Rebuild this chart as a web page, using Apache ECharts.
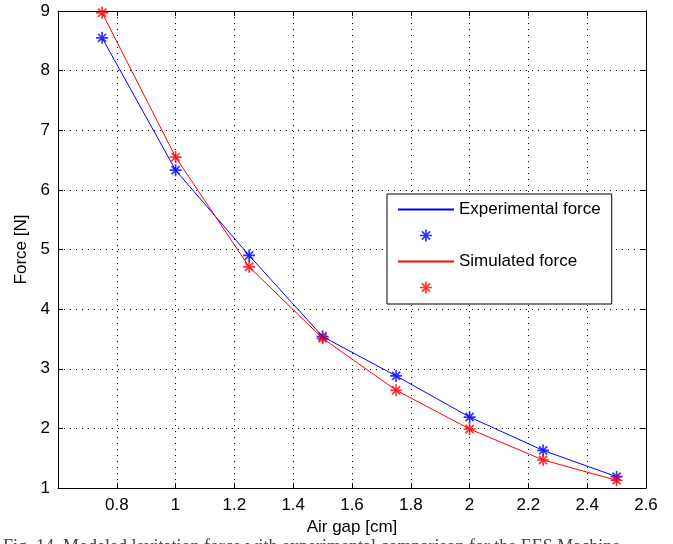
<!DOCTYPE html>
<html>
<head>
<meta charset="utf-8">
<script src="https://cdn.jsdelivr.net/npm/echarts@6/dist/echarts.min.js"></script>
<style>
  html, body { margin: 0; padding: 0; background: #fff; }
  #chart { width: 673px; height: 544px; }
</style>
</head>
<body>
<div id="chart"></div>
<script>
// data
var airGap = [0.75, 1.0, 1.25, 1.5, 1.75, 2.0, 2.25, 2.5];
var experimentalForce = [8.55, 6.33, 4.90, 3.54, 2.88, 2.19, 1.63, 1.19];
var simulatedForce = [8.97, 6.55, 4.71, 3.51, 2.64, 1.99, 1.47, 1.13];

function pairs(xs, ys) {
  return xs.map(function (x, i) { return [x, ys[i]]; });
}

// matlab style asterisk marker
var star = 'path://M8.6 0L11.4 0L11.4 20L8.6 20Z M0 8.6L20 8.6L20 11.4L0 11.4Z' +
  ' M2.2 4.2L4.2 2.2L17.8 15.8L15.8 17.8Z M15.8 2.2L17.8 4.2L4.2 17.8L2.2 15.8Z';

var font = '"Liberation Sans", Arial, sans-serif';
var dotted = { color: '#000', width: 1, type: [1, 5] };

var chart = echarts.init(document.getElementById('chart'));

var option = {
  backgroundColor: '#fff',
  animation: false,
  grid: { left: 58, right: 27, top: 11, bottom: 56 },
  legend: {
    orient: 'vertical',
    left: 387,
    top: 194,
    padding: [7, 11, 8, 10],
    itemWidth: 56,
    itemHeight: 12,
    itemGap: 9,
    backgroundColor: '#fff',
    borderColor: '#000',
    borderWidth: 1,
    borderRadius: 0,
    selectedMode: false,
    textStyle: { fontFamily: font, fontSize: 17, color: '#000' },
    data: [
      // hide the dot that line series get in the legend
      { name: 'Experimental force', itemStyle: { opacity: 0 } },
      { name: '\u200b' },
      { name: 'Simulated force', itemStyle: { opacity: 0 } },
      { name: '\u200b\u200b' }
    ]
  },
  xAxis: [{
    type: 'value',
    min: 0.6, max: 2.6, interval: 0.2,
    name: 'Air gap [cm]',
    nameLocation: 'middle',
    nameGap: 30,
    nameTextStyle: { fontFamily: font, fontSize: 17, color: '#000' },
    axisLine: { lineStyle: { color: '#000' } },
    axisTick: { inside: true, length: 5, lineStyle: { color: '#000' } },
    axisLabel: {
      margin: 9,
      fontFamily: font, fontSize: 17, color: '#000',
      formatter: function (v) { return v < 0.7 ? '' : String(+v.toFixed(1)); }
    },
    splitLine: { show: true, lineStyle: dotted }
  }, {
    // top edge of the box
    type: 'value', position: 'top',
    min: 0.6, max: 2.6, interval: 0.2,
    axisLine: { lineStyle: { color: '#000' } },
    axisTick: { inside: true, length: 5, lineStyle: { color: '#000' } },
    axisLabel: { show: false },
    splitLine: { show: false }
  }],
  yAxis: [{
    type: 'value',
    min: 1, max: 9, interval: 1,
    name: 'Force [N]',
    nameLocation: 'middle',
    nameGap: 27,
    nameTextStyle: { fontFamily: font, fontSize: 17, color: '#000' },
    axisLine: { show: true, lineStyle: { color: '#000' } },
    axisTick: { show: true, inside: true, length: 5, lineStyle: { color: '#000' } },
    axisLabel: { margin: 8, fontFamily: font, fontSize: 17, color: '#000' },
    splitLine: { show: true, lineStyle: dotted }
  }, {
    // right edge of the box
    type: 'value', position: 'right',
    min: 1, max: 9, interval: 1,
    axisLine: { show: true, lineStyle: { color: '#000' } },
    axisTick: { show: true, inside: true, length: 5, lineStyle: { color: '#000' } },
    axisLabel: { show: false },
    splitLine: { show: false }
  }],
  series: [
    {
      name: 'Experimental force',
      type: 'line',
      data: pairs(airGap, experimentalForce),
      symbol: 'none',
      lineStyle: { color: '#0000ff', width: 1 },
      itemStyle: { color: '#0000ff' }
    },
    {
      name: '\u200b',
      type: 'scatter',
      data: pairs(airGap, experimentalForce),
      symbol: star,
      symbolSize: 12,
      itemStyle: { color: '#0000ff' }
    },
    {
      name: 'Simulated force',
      type: 'line',
      data: pairs(airGap, simulatedForce),
      symbol: 'none',
      lineStyle: { color: '#ff0000', width: 1 },
      itemStyle: { color: '#ff0000' }
    },
    {
      name: '\u200b\u200b',
      type: 'scatter',
      data: pairs(airGap, simulatedForce),
      symbol: star,
      symbolSize: 12,
      itemStyle: { color: '#ff0000' }
    }
  ],
  graphic: [{
    // figure caption, cut off at the bottom of the picture
    type: 'text',
    left: 3,
    top: 538,
    style: {
      text: 'Fig. 14. Modeled levitation force with experimental comparison for the EES Machine',
      font: '18px "Liberation Serif", "Times New Roman", serif',
      fill: '#444'
    }
  }]
};

chart.setOption(option);
</script>
</body>
</html>
